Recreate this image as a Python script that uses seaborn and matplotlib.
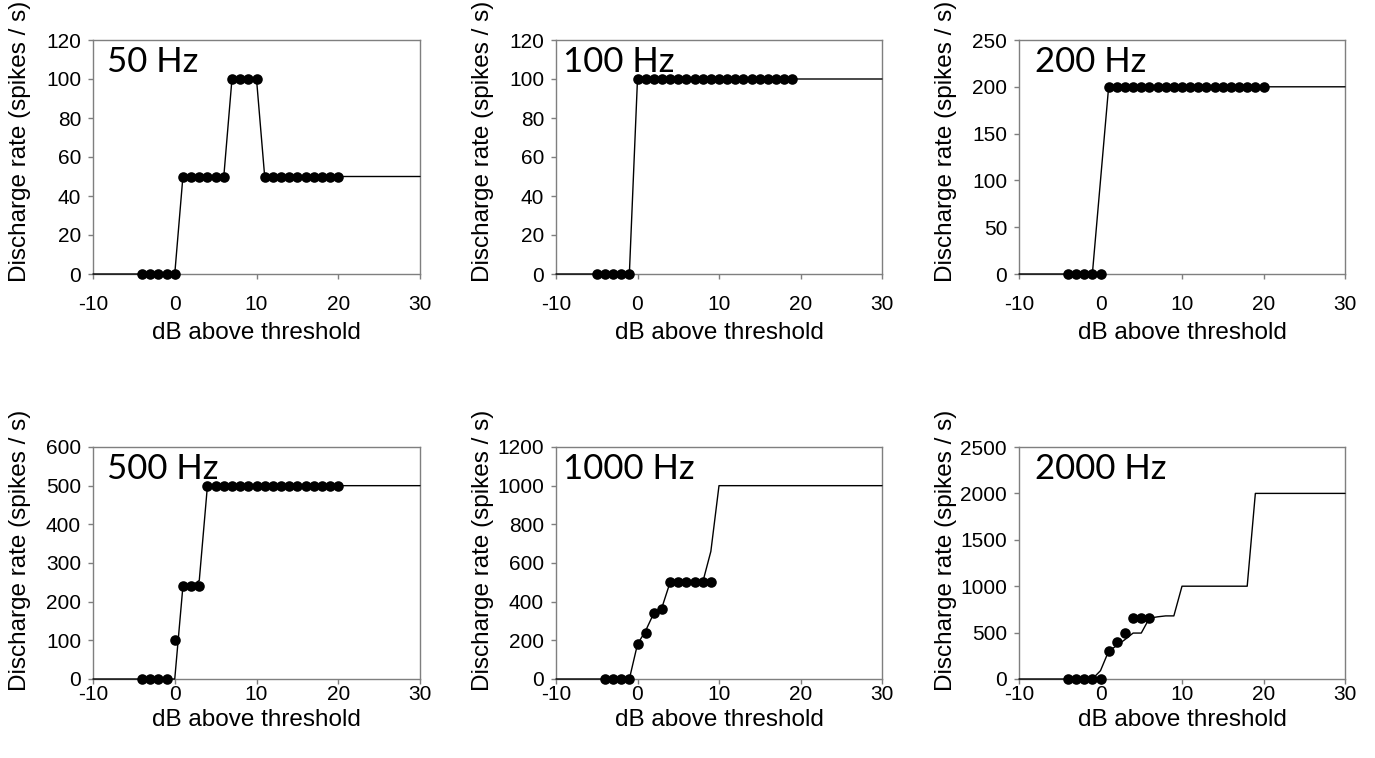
import numpy as np
import pandas as pd
import matplotlib
matplotlib.use("Agg")
import matplotlib.pyplot as plt
import seaborn as sns

# ---------------- data ----------------
x_ticks = [-10, 0, 10, 20, 30]
panel_titles = ["50 Hz", "100 Hz", "200 Hz", "500 Hz", "1000 Hz", "2000 Hz"]
x_label = "dB above threshold"
y_label = "Discharge rate (spikes / s)"

# 50 Hz
hz50_pts_x = [-4, -3, -2, -1, 0, 1, 2, 3, 4, 5, 6, 7, 8, 9, 10,
              11, 12, 13, 14, 15, 16, 17, 18, 19, 20]
hz50_pts_y = [0, 0, 0, 0, 0, 50, 50, 50, 50, 50, 50, 100, 100, 100, 100,
              50, 50, 50, 50, 50, 50, 50, 50, 50, 50]
hz50_line_x = [-10, 0, 1, 6, 7, 10, 11, 30]
hz50_line_y = [0, 0, 50, 50, 100, 100, 50, 50]
hz50_yticks = [0, 20, 40, 60, 80, 100, 120]

# 100 Hz
hz100_pts_x = [-5, -4, -3, -2, -1] + list(range(0, 20))
hz100_pts_y = [0, 0, 0, 0, 0] + [100] * 20
hz100_line_x = [-10, -1, 0, 30]
hz100_line_y = [0, 0, 100, 100]
hz100_yticks = [0, 20, 40, 60, 80, 100, 120]

# 200 Hz
hz200_pts_x = [-4, -3, -2, -1, 0] + list(range(1, 21))
hz200_pts_y = [0, 0, 0, 0, 0] + [200] * 20
hz200_line_x = [-10, -1, 0, 1, 30]
hz200_line_y = [0, 0, 100, 200, 200]
hz200_yticks = [0, 50, 100, 150, 200, 250]

# 500 Hz
hz500_pts_x = [-4, -3, -2, -1, 0, 1, 2, 3] + list(range(4, 21))
hz500_pts_y = [0, 0, 0, 0, 100, 240, 240, 240] + [500] * 17
hz500_line_x = [-10, 0, 1, 2, 3, 4, 30]
hz500_line_y = [0, 0, 240, 240, 255, 500, 500]
hz500_yticks = [0, 100, 200, 300, 400, 500, 600]

# 1000 Hz
hz1000_pts_x = [-4, -3, -2, -1, 0, 1, 2, 3, 4, 5, 6, 7, 8, 9]
hz1000_pts_y = [0, 0, 0, 0, 180, 240, 340, 360, 500, 500, 500, 500, 500, 500]
hz1000_line_x = [-10, -1, 0, 1, 2, 3, 4, 8, 9, 10, 30]
hz1000_line_y = [0, 0, 180, 250, 340, 370, 500, 500, 660, 1000, 1000]
hz1000_yticks = [0, 200, 400, 600, 800, 1000, 1200]

# 2000 Hz
hz2000_pts_x = [-4, -3, -2, -1, 0, 1, 2, 3, 4, 5, 6]
hz2000_pts_y = [0, 0, 0, 0, 0, 300, 400, 500, 660, 660, 660]
hz2000_line_x = [-10, -1, 0, 1, 2, 3, 4, 5, 6, 7, 8, 9, 10, 18, 19, 30]
hz2000_line_y = [0, 0, 90, 300, 360, 425, 495, 495, 655, 670, 680, 680, 1000, 1000, 2000, 2000]
hz2000_yticks = [0, 500, 1000, 1500, 2000, 2500]

panels = [
    (hz50_pts_x, hz50_pts_y, hz50_line_x, hz50_line_y, hz50_yticks),
    (hz100_pts_x, hz100_pts_y, hz100_line_x, hz100_line_y, hz100_yticks),
    (hz200_pts_x, hz200_pts_y, hz200_line_x, hz200_line_y, hz200_yticks),
    (hz500_pts_x, hz500_pts_y, hz500_line_x, hz500_line_y, hz500_yticks),
    (hz1000_pts_x, hz1000_pts_y, hz1000_line_x, hz1000_line_y, hz1000_yticks),
    (hz2000_pts_x, hz2000_pts_y, hz2000_line_x, hz2000_line_y, hz2000_yticks),
]

# ---------------- style ----------------
sns.set_theme(style="white")
plt.rcParams["font.family"] = ["Liberation Sans", "DejaVu Sans"]

W, H = 1375, 758
fig = plt.figure(figsize=(W / 100, H / 100), dpi=100)

# axes boxes in pixels: (left, right) / (top, bottom)
col_px = [(93, 420), (556, 882), (1019, 1345)]
row_px = [(40, 274), (447, 679)]
title_dx = [0.043, 0.02, 0.05]
tick_pad_rows = [11.5, 1.0]
xlabel_y_rows = [-0.252, -0.177]
ylabel_y_rows = [0.565, 0.555]

spine_col = "#7f7f7f"

for i, (px, py, lx, ly, yt) in enumerate(panels):
    r, c = divmod(i, 3)
    l, rr = col_px[c]
    t, b = row_px[r]
    ax = fig.add_axes([l / W, 1 - b / H, (rr - l) / W, (b - t) / H])

    sns.lineplot(x=lx, y=ly, ax=ax, color="black", linewidth=1.0,
                 estimator=None, sort=False, zorder=3, clip_on=False)
    sns.scatterplot(x=px, y=py, ax=ax, color="black", s=58, linewidth=0,
                    zorder=4, clip_on=False)

    ax.set_xlim(-10, 30)
    ax.set_ylim(yt[0], yt[-1])
    ax.set_xticks(x_ticks)
    ax.set_yticks(yt)
    ax.set_xticklabels([str(v) for v in x_ticks])
    ax.set_yticklabels([str(v) for v in yt])
    for s in ax.spines.values():
        s.set_visible(True)
        s.set_color(spine_col)
        s.set_linewidth(1.0)
    ax.tick_params(axis="both", direction="out", length=3.6, width=1.0,
                   color=spine_col, labelsize=15, labelcolor="black",
                   bottom=True, left=True, top=False, right=False)
    ax.tick_params(axis="y", pad=5)
    ax.tick_params(axis="x", pad=tick_pad_rows[r])
    ax.grid(False)

    ax.set_ylabel(y_label, fontsize=17.5, color="black")
    ax.yaxis.set_label_coords(-0.223, ylabel_y_rows[r])
    ax.yaxis.label.set_va("center")
    ax.set_xlabel(x_label, fontsize=17.5, color="black")
    ax.xaxis.set_label_coords(0.5, xlabel_y_rows[r])
    ax.xaxis.label.set_va("center")

    ax.text(title_dx[c], 0.975, panel_titles[i], transform=ax.transAxes,
            ha="left", va="top", fontsize=25, family=["Lato", "DejaVu Sans"],
            color="black", zorder=2)

fig.savefig("out.png", dpi=100, facecolor="white")
